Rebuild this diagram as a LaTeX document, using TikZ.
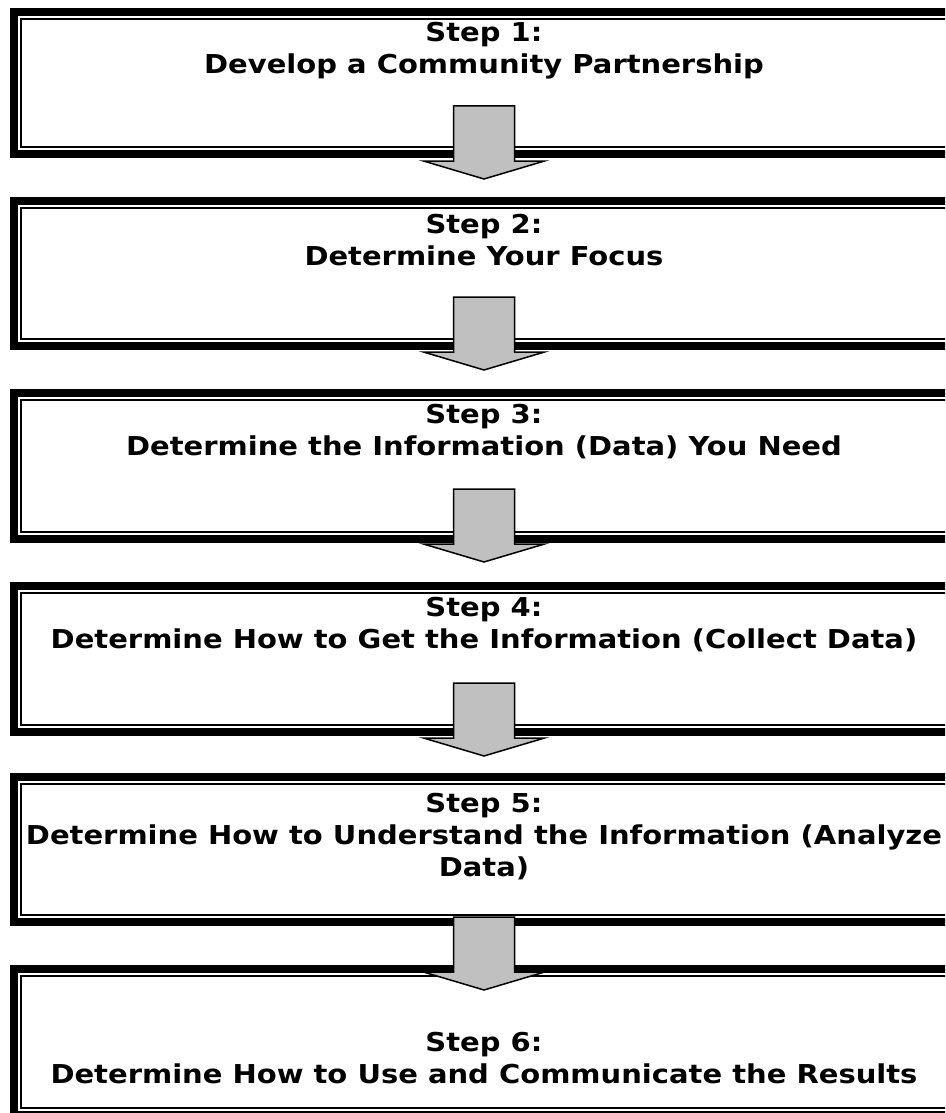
\documentclass[tikz,border=0pt]{standalone}
\usepackage{fontspec}
\newfontfamily\stepfont[FakeStretch=1.115]{DejaVu Sans}
\definecolor{arrowgray}{RGB}{192,192,192}

\tikzstyle{stepbox} = [rectangle, draw, line width=8pt, minimum width=940pt, outer sep=0pt, inner sep=0pt]
\tikzstyle{steptext} = [align=center, inner sep=0pt, font=\stepfont\bfseries\fontsize{26}{32}\selectfont]
\tikzset{downarrow/.pic={
  \draw[fill=arrowgray, line width=1.5pt, line join=miter] (-30.5,0) -- (30.5,0) -- (30.5,55) -- (60.5,55) -- (0,73) -- (-60.5,55) -- (-30.5,55) -- cycle;}}

\begin{document}
\begin{tikzpicture}[x=1pt, y=-1pt]
    \useasboundingbox (0,0) rectangle (945,1113);
    \clip (0,0) rectangle (945,1113);

    %  boxes
    \node [stepbox, minimum height=142pt] (b1) at (484,83) {};
    \node [stepbox, minimum height=145pt] (b2) at (484,273.5) {};
    \node [stepbox, minimum height=146pt] (b3) at (484,466) {};
    \node [stepbox, minimum height=146pt] (b4) at (484,659) {};
    \node [stepbox, minimum height=145pt] (b5) at (484,849.5) {};
    \node [stepbox, minimum height=146pt] (b6) at (484,1042) {};

    \foreach \b in {b1,b2,b3,b4,b5,b6}
      \draw[line width=2pt] ([shift={(7pt,-7pt)}]\b.north west) rectangle ([shift={(-7pt,7pt)}]\b.south east);

   %-------------------------------------------------------------
    \pic at ([yshift=48pt]b1.south) {downarrow};
    \pic at ([yshift=49pt]b2.south) {downarrow};
    \pic at ([yshift=50pt]b3.south) {downarrow};
    \pic at ([yshift=49pt]b4.south) {downarrow};
    \pic at ([yshift=5pt]b5.south) {downarrow};

   %-------------------------------------------------------------
    \node[steptext] (t1) at (484,51) {Step 1:\\Develop a Community Partnership};
    \node[steptext] (t2) at (484,240) {Step 2:\\Determine Your Focus};
    \node[steptext] (t3) at (484,432) {Step 3:\\Determine the Information (Data) You Need};
    \node[steptext] (t4) at (484,625) {Step 4:\\Determine How to Get the Information (Collect Data)};
    \node[steptext] (t5) at (484,837) {Step 5:\\Determine How to Understand the Information (Analyze\\Data)};
    \node[steptext] (t6) at (484,1058) {Step 6:\\Determine How to Use and Communicate the Results};

\end{tikzpicture}
\end{document}
